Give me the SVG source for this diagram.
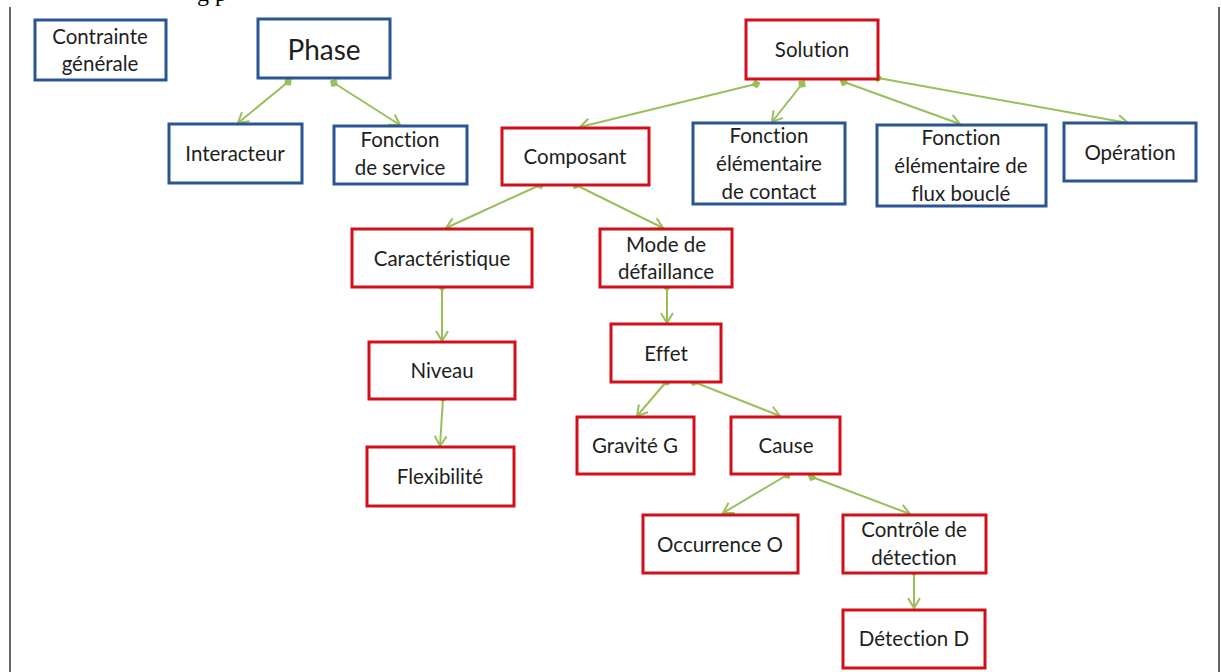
<svg xmlns="http://www.w3.org/2000/svg" width="1221" height="672" viewBox="0 0 1221 672">
<style>
.r{fill:#fff;stroke:#d0111b;stroke-width:3}
.b{fill:#fff;stroke:#2a5593;stroke-width:3}
text{font-family:Lato,"Open Sans","Liberation Sans",sans-serif;font-size:20.5px;fill:#1e1e1e;text-anchor:middle;font-variant-ligatures:none;font-feature-settings:"liga" 0}
.c line{stroke:#98c05a;stroke-width:2;marker-start:url(#dot);marker-end:url(#arr)}
.frame{stroke:#666;stroke-width:2}
</style>
<defs>
<marker id="dot" viewBox="-5 -5 10 10" markerWidth="10" markerHeight="10" refX="0" refY="0" markerUnits="userSpaceOnUse" orient="auto">
<rect x="-3.3" y="-3.3" width="6.6" height="6.6" fill="#98c05a" transform="rotate(45)"/>
</marker>
<marker id="arr" viewBox="-12 -8 14 16" markerWidth="14" markerHeight="16" refX="0" refY="0" markerUnits="userSpaceOnUse" orient="auto">
<path d="M-10,-6 L0,0 L-10,6" fill="none" stroke="#98c05a" stroke-width="2"/>
</marker>
</defs>
<rect width="1221" height="672" fill="#fff"/>
<line class="frame" x1="10" y1="7" x2="10" y2="672"/>
<line class="frame" x1="1219" y1="7" x2="1219" y2="672"/>
<text x="212" y="1" style="font-family:'Liberation Serif',serif;font-size:24px;fill:#000">g p</text>

<g class="c" id="connectors">
<line x1="288" y1="82" x2="238" y2="123"/>
<line x1="334" y1="83" x2="400" y2="125"/>
<line x1="756" y1="84" x2="580" y2="127"/>
<line x1="802" y1="84" x2="772" y2="122"/>
<line x1="844" y1="82" x2="960" y2="124"/>
<line x1="878" y1="78" x2="1128" y2="123"/>
<line x1="540" y1="185" x2="446" y2="228"/>
<line x1="576" y1="185" x2="663" y2="228"/>
<line x1="442" y1="287" x2="442" y2="341"/>
<line x1="667" y1="287" x2="667" y2="323"/>
<line x1="443" y1="398" x2="440" y2="446"/>
<line x1="666" y1="382" x2="637" y2="416"/>
<line x1="694" y1="382" x2="780" y2="416"/>
<line x1="787" y1="475" x2="723" y2="513"/>
<line x1="812" y1="477" x2="910" y2="514"/>
<line x1="914" y1="572" x2="914" y2="608"/>
</g>

<g id="contrainte"><rect class="b" x="35" y="20" width="131" height="60"/><text x="100" y="44">Contrainte</text><text x="100" y="71">générale</text></g>
<g id="phase"><rect class="b" x="258" y="19" width="132" height="59"/><text x="324" y="60" style="font-size:28px">Phase</text></g>
<g id="interacteur"><rect class="b" x="169" y="124" width="133" height="59"/><text x="235" y="161">Interacteur</text></g>
<g id="fonction-service"><rect class="b" x="334" y="126" width="133" height="58"/><text x="400" y="147">Fonction</text><text x="400" y="175">de service</text></g>
<g id="solution"><rect class="r" x="746" y="20" width="132" height="59"/><text x="812" y="57">Solution</text></g>
<g id="composant"><rect class="r" x="502" y="128" width="147" height="57"/><text x="575" y="164">Composant</text></g>
<g id="fonction-contact"><rect class="b" x="693" y="123" width="152" height="81"/><text x="769" y="143">Fonction</text><text x="769" y="171">élémentaire</text><text x="769" y="199">de contact</text></g>
<g id="fonction-flux"><rect class="b" x="877" y="125" width="169" height="81"/><text x="961" y="145">Fonction</text><text x="961" y="173">élémentaire de</text><text x="961" y="201">flux bouclé</text></g>
<g id="operation"><rect class="b" x="1064" y="123" width="132" height="58"/><text x="1130" y="160">Opération</text></g>
<g id="caracteristique"><rect class="r" x="352" y="229" width="180" height="58"/><text x="442" y="266">Caractéristique</text></g>
<g id="mode"><rect class="r" x="600" y="229" width="132" height="58"/><text x="666" y="252">Mode de</text><text x="666" y="279">défaillance</text></g>
<g id="niveau"><rect class="r" x="369" y="342" width="146" height="57"/><text x="442" y="378">Niveau</text></g>
<g id="flexibilite"><rect class="r" x="367" y="447" width="147" height="59"/><text x="440" y="484">Flexibilité</text></g>
<g id="effet"><rect class="r" x="611" y="324" width="110" height="58"/><text x="666" y="361">Effet</text></g>
<g id="gravite"><rect class="r" x="577" y="417" width="117" height="57"/><text x="635" y="453">Gravité G</text></g>
<g id="cause"><rect class="r" x="731" y="417" width="109" height="57"/><text x="786" y="453">Cause</text></g>
<g id="occurrence"><rect class="r" x="643" y="515" width="155" height="58"/><text x="720" y="552">Occurrence O</text></g>
<g id="controle"><rect class="r" x="843" y="515" width="143" height="58"/><text x="914" y="537">Contrôle de</text><text x="914" y="565">détection</text></g>
<g id="detection"><rect class="r" x="843" y="610" width="142" height="58"/><text x="914" y="646">Détection D</text></g>
</svg>
